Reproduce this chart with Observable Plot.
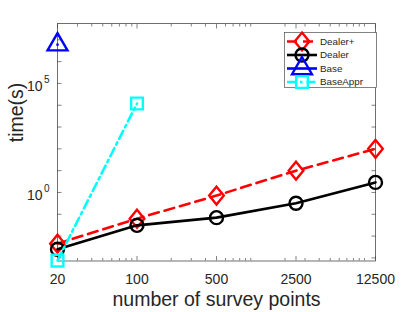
<!DOCTYPE html>
<html><head><meta charset="utf-8">
<script src="https://cdn.jsdelivr.net/npm/d3@7"></script>
<script src="https://cdn.jsdelivr.net/npm/@observablehq/plot@0.6"></script>
<style>
body{margin:0;background:#fff}
#wrap{position:relative;width:415px;height:312px;font-family:"Liberation Sans",Arial,Helvetica,sans-serif}
#legend{position:absolute;left:0;top:0;pointer-events:none}
</style>
</head><body><div id="wrap"></div>
<script>
// ---- data ----
const surveyPoints = [20, 100, 500, 2500, 12500];
const seriesNames = ["Dealer+", "Dealer", "Base", "BaseAppr"];
const dealerPlusTime = [0.0045, 0.063, 0.72, 10, 100];
const dealerTime = [0.0025, 0.031, 0.07, 0.32, 2.9];
const baseTime = [6e6];              // only at 20 points
const baseApprTime = [0.00075, 12000]; // at 20 and 100 points
const yLabelTicks = [1, 1e5];
const xLabel = "number of survey points";
const yLabel = "time(s)";

const seriesValues = {"Dealer+": dealerPlusTime, "Dealer": dealerTime, "Base": baseTime, "BaseAppr": baseApprTime};

// ---- styles ----
const tallDiamond = {draw(ctx, size) { const h = Math.sqrt(size) * 0.72, w = h * 0.82; ctx.moveTo(0, -h); ctx.lineTo(w, 0); ctx.lineTo(0, h); ctx.lineTo(-w, 0); ctx.closePath(); }};
const styles = {
  "Dealer+": {stroke: "#ff0000", dash: "10,6", symbol: tallDiamond, r: 7},
  "Dealer": {stroke: "#000000", dash: null, symbol: d3.symbolCircle, r: 6.5},
  "Base": {stroke: "#0000ff", dash: null, symbol: d3.symbolTriangle, r: 7.4},
  "BaseAppr": {stroke: "#00ffff", dash: "9,4,2.5,4", symbol: d3.symbolSquare, r: 6.6}
};

const rows = seriesNames.map(name => seriesValues[name].map((v, i) => ({series: name, x: surveyPoints[i], y: v})));

const minorX = [];
for (let p = 10; p <= 10000; p *= 10) for (let k = 1; k <= 9; k++) {
  const v = k * p; if (v > 20 && v < 12500 && !surveyPoints.includes(v)) minorX.push(v);
}
const decades = d3.range(-3, 8).map(e => Math.pow(10, e));

const axisColor = "#4d4d4d";
const textColor = "#262626";

const marks = [
  Plot.axisX({anchor: "bottom", ticks: minorX, tickSize: -2.5, text: null, label: null, stroke: axisColor, strokeWidth: 0.7}),
  Plot.axisX({anchor: "bottom", ticks: surveyPoints, tickSize: -4.5, text: null, label: null, stroke: axisColor, strokeWidth: 0.7}),
  Plot.axisX({anchor: "top", ticks: minorX, tickSize: -2.5, text: null, label: null, stroke: axisColor, strokeWidth: 0.7}),
  Plot.axisX({anchor: "top", ticks: surveyPoints, tickSize: -4.5, text: null, label: null, stroke: axisColor, strokeWidth: 0.7}),
  Plot.axisY({anchor: "left", ticks: decades, tickSize: -4.5, text: null, label: null, stroke: axisColor, strokeWidth: 0.7}),
  Plot.axisY({anchor: "right", ticks: decades, tickSize: -4.5, text: null, label: null, stroke: axisColor, strokeWidth: 0.7}),
  Plot.text(surveyPoints, {x: d => d, frameAnchor: "bottom", dy: 13, lineAnchor: "top", text: d => String(d), fontSize: 14, fill: textColor}),
  Plot.axisY({anchor: "left", ticks: yLabelTicks, tickSize: 0, tickPadding: 15, tickFormat: () => "10", fontSize: 14, dy: 3, fill: textColor, label: null}),
  Plot.axisY({anchor: "left", ticks: yLabelTicks, tickSize: 0, tickPadding: 8, tickFormat: d => String(Math.round(Math.log10(d))), fontSize: 10, dy: -4, fill: textColor, label: null}),
  Plot.frame({stroke: axisColor, strokeWidth: 0.8}),
  Plot.text([xLabel], {frameAnchor: "bottom", dy: 45, lineAnchor: "bottom", fontSize: 19.5, fill: textColor}),
  Plot.text([yLabel], {frameAnchor: "left", dx: -41, rotate: -90, lineAnchor: "middle", fontSize: 19.5, fill: textColor})
];

seriesNames.forEach((name, i) => {
  const s = styles[name];
  marks.push(Plot.line(rows[i], {x: "x", y: "y", stroke: s.stroke, strokeWidth: 2.6, strokeDasharray: s.dash}));
  marks.push(Plot.dot(rows[i], {x: "x", y: "y", symbol: s.symbol, r: s.r, stroke: s.stroke, strokeWidth: 2.4, fill: "none"}));
});

const chart = Plot.plot({
  width: 415, height: 312,
  marginLeft: 57, marginRight: 40, marginTop: 23, marginBottom: 51.5,
  style: {fontFamily: '"Liberation Sans",Arial,Helvetica,sans-serif', background: "#fff"},
  x: {type: "log", domain: [20, 12500]},
  y: {type: "log", domain: [7.2e-4, 5.6e7]},
  marks
});
const wrap = document.getElementById("wrap");
wrap.appendChild(chart);

// ---- legend ----
const lg = d3.select(wrap).append("svg").attr("id", "legend").attr("width", 415).attr("height", 312);
lg.append("rect").attr("x", 284.5).attr("y", 32.5).attr("width", 92).attr("height", 55)
  .attr("fill", "#fff").attr("stroke", axisColor).attr("stroke-width", 0.7);
seriesNames.forEach((name, i) => {
  const s = styles[name];
  const y = 41.5 + 13.5 * i;
  lg.append("line").attr("x1", 287).attr("x2", 317).attr("y1", y).attr("y2", y)
    .attr("stroke", s.stroke).attr("stroke-width", 2.6).attr("stroke-dasharray", s.dash);
  lg.append("path").attr("transform", `translate(302,${y})`)
    .attr("d", d3.symbol(s.symbol, Math.PI * s.r * s.r)())
    .attr("fill", "none").attr("stroke", s.stroke).attr("stroke-width", 2.4);
  lg.append("text").attr("x", 320).attr("y", y + 3.4).attr("font-size", 9.8).attr("fill", textColor)
    .attr("font-family", '"Liberation Sans",Arial,sans-serif').text(name);
});
</script>
</body></html>
